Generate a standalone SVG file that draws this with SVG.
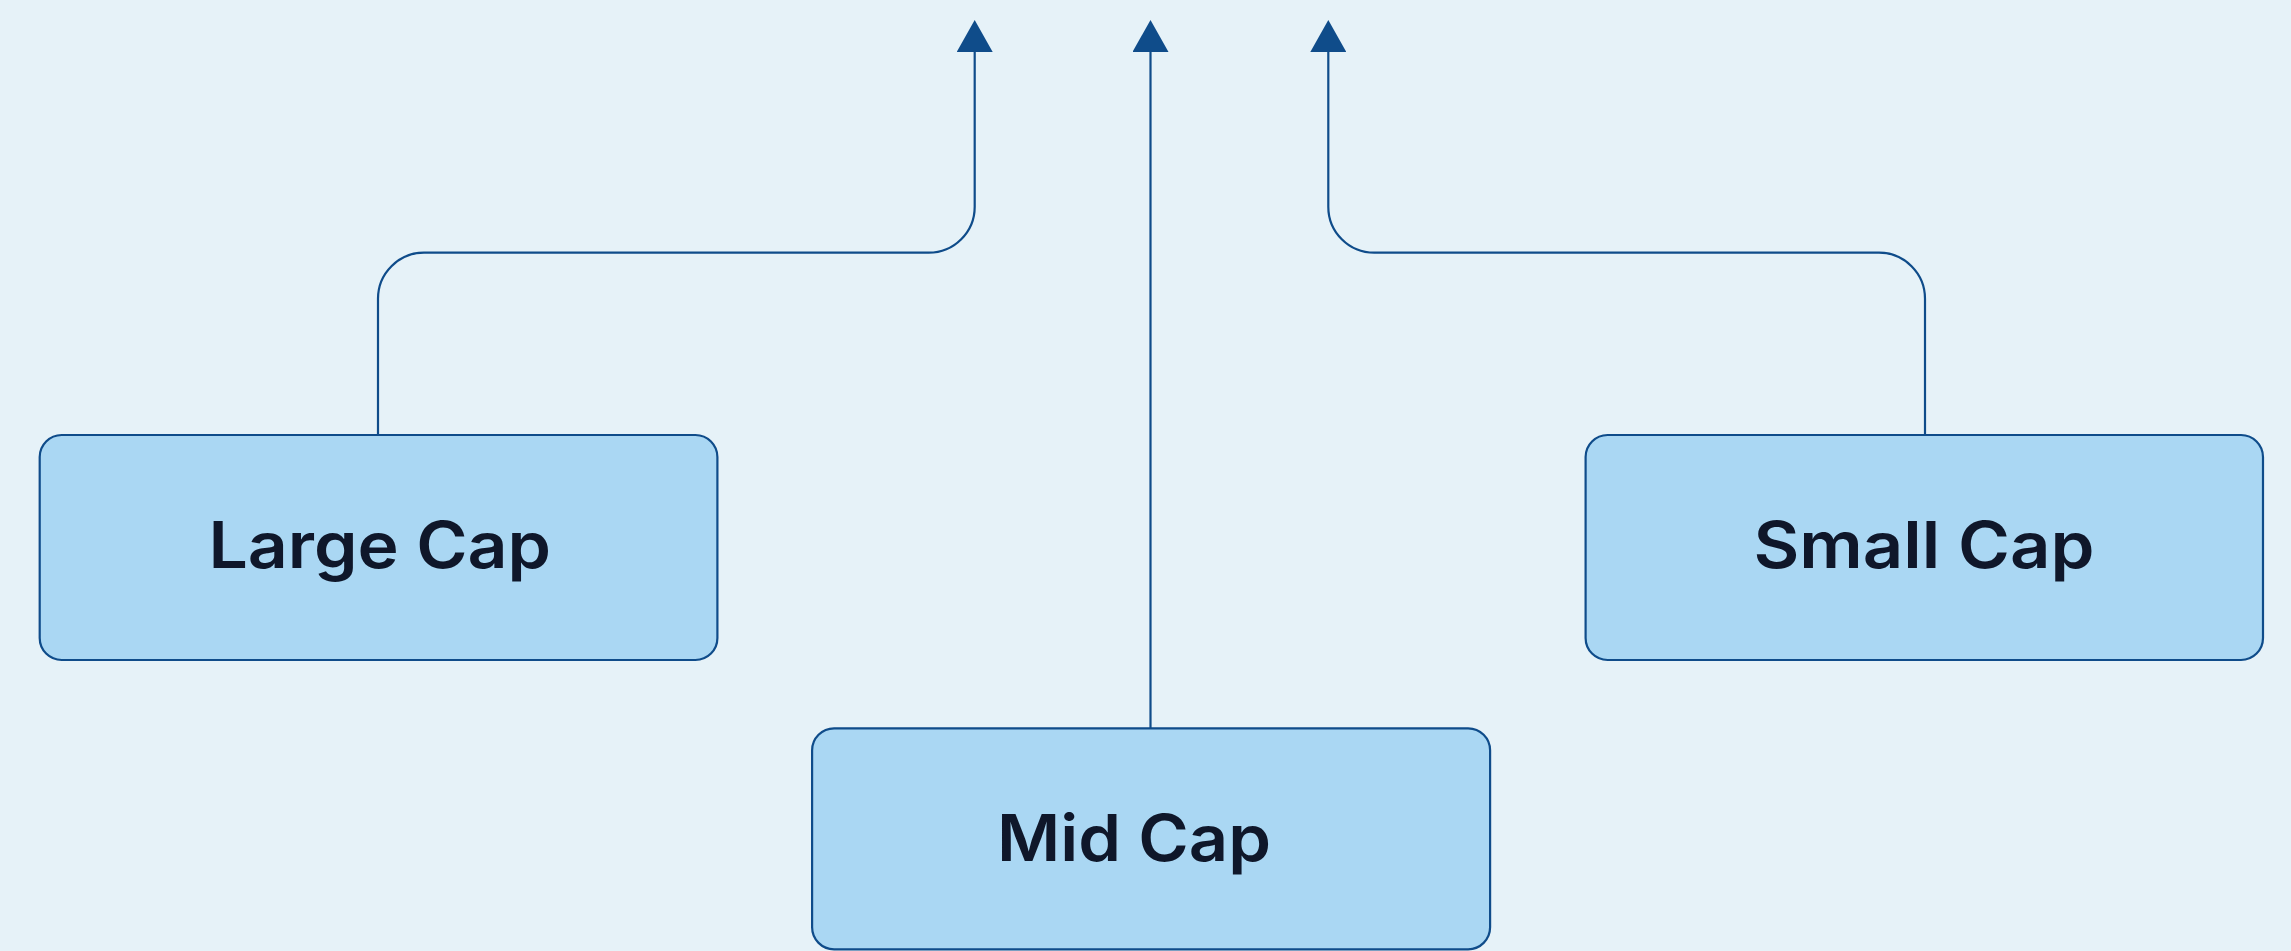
<svg xmlns="http://www.w3.org/2000/svg" width="2291" height="951" viewBox="0 0 2291 951">
<defs>
<style>
.node rect{fill:#AAD7F3;stroke:#0F4C8A;stroke-width:2.2}
.node text{font-family:Inter,"Open Sans","Liberation Sans",sans-serif;font-weight:600;font-size:64px;fill:#0F172A}
.conn{fill:none;stroke:#0F4C8A;stroke-width:2.2}
</style>
<marker id="arr" viewBox="0 0 32 36" refX="0" refY="18" markerWidth="32" markerHeight="36" markerUnits="userSpaceOnUse" orient="auto">
<path d="M0,0 L32,18 L0,36 Z" fill="#0F4C8A"/>
</marker>
</defs>
<rect width="2291" height="951" fill="#E6F2F8"/>
<g id="connectors">
<path class="conn" d="M378,435 V298.7 A46,46 0 0 1 424,252.7 H928.7 A46,46 0 0 0 974.7,206.7 V52" marker-end="url(#arr)"/>
<path class="conn" d="M1150.5,730 V52" marker-end="url(#arr)"/>
<path class="conn" d="M1925,435 V298.7 A46,46 0 0 0 1879,252.7 H1374.3 A46,46 0 0 1 1328.3,206.7 V52" marker-end="url(#arr)"/>
</g>
<g id="large-cap" class="node">
<rect x="39.7" y="435" width="677.7" height="225" rx="22"/>
<text x="208.4" y="567.7" textLength="342.7" lengthAdjust="spacingAndGlyphs">Large Cap</text>
</g>
<g id="mid-cap" class="node">
<rect x="812.1" y="728.3" width="678" height="221" rx="22"/>
<text x="997" y="861" textLength="274" lengthAdjust="spacingAndGlyphs">Mid Cap</text>
</g>
<g id="small-cap" class="node">
<rect x="1585.6" y="435" width="677.4" height="225" rx="22"/>
<text x="1753.5" y="567.7" textLength="341" lengthAdjust="spacingAndGlyphs">Small Cap</text>
</g>
</svg>
